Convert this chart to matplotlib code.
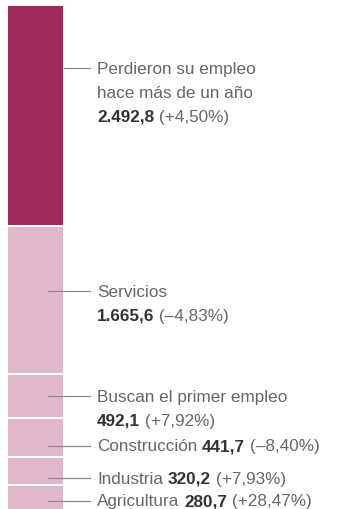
import matplotlib.pyplot as plt
import matplotlib.transforms as mtransforms

# Parados por categoría (miles) y variación anual
categorias = ["Perdieron su empleo\nhace más de un año", "Servicios",
              "Buscan el primer empleo", "Construcción", "Industria", "Agricultura"]
valores = [2492.8, 1665.6, 492.1, 441.7, 320.2, 280.7]
valores_txt = ["2.492,8", "1.665,6", "492,1", "441,7", "320,2", "280,7"]
variacion_txt = ["(+4,50%)", "(–4,83%)", "(+7,92%)", "(–8,40%)", "(+7,93%)", "(+28,47%)"]

# layout: where the leader line sits within each segment, and whether
# the value goes on its own line
anclaje = [0.285, 0.44, 0.51, 0.72, 0.75, 0.62]
valor_aparte = [True, True, True, False, False, False]

color_oscuro = "#9E2A5A"
color_claro = "#E3B7CA"
gris = "#666666"
gris_num = "#333333"

plt.rcParams['font.family'] = ['Liberation Sans', 'DejaVu Sans']

fig = plt.figure(figsize=(3.37, 5.10), dpi=100)
ax = fig.add_axes([0, 0, 1, 1])
ax.axis("off")

total = sum(valores)
px_por_unidad = 505 / total
ax.set_xlim(0, 337)
ax.set_ylim((510 - 6) / px_por_unidad, -6 / px_por_unidad)

bar_x, bar_w = 35.5, 57
inicio = 0
fs = 12.3
for i, v in enumerate(valores):
    color = color_oscuro if i == 0 else color_claro
    ax.bar(bar_x, v, bottom=inicio, width=bar_w, color=color,
           edgecolor="white", linewidth=1.4, zorder=2)

    y = inicio + anclaje[i] * v
    x0 = bar_x + bar_w / 2 if i == 0 else 48
    ax.plot([x0, 90], [y, y], color="#8a8a8a", lw=0.9, zorder=3)

    lineas = categorias[i].split("\n")
    k = 0
    for linea in lineas[:-1]:
        tr = mtransforms.offset_copy(ax.transData, fig, y=-24 * k, units='dots')
        ax.text(97, y, linea, transform=tr, fontsize=fs, color=gris, va="center")
        k += 1

    tr = mtransforms.offset_copy(ax.transData, fig, y=-24 * k, units='dots')
    if valor_aparte[i]:
        ax.text(97, y, lineas[-1], transform=tr, fontsize=fs, color=gris, va="center")
        k += 1
        tr = mtransforms.offset_copy(ax.transData, fig, y=-24 * k, units='dots')
        t = ax.text(97, y, valores_txt[i], transform=tr, fontsize=fs,
                    color=gris_num, fontweight="bold", va="center")
    else:
        t0 = ax.text(97, y, lineas[-1], transform=tr, fontsize=fs,
                     color=gris, va="center")
        t = ax.annotate(valores_txt[i], xy=(1, 0), xycoords=t0,
                        xytext=(3.5, 0), textcoords="offset points",
                        fontsize=fs, color=gris_num, fontweight="bold", va="bottom")
    ax.annotate(variacion_txt[i], xy=(1, 0), xycoords=t,
                xytext=(3.5, 0), textcoords="offset points",
                fontsize=fs, color=gris, va="bottom")

    inicio += v

fig.savefig("out.png", dpi=100)
